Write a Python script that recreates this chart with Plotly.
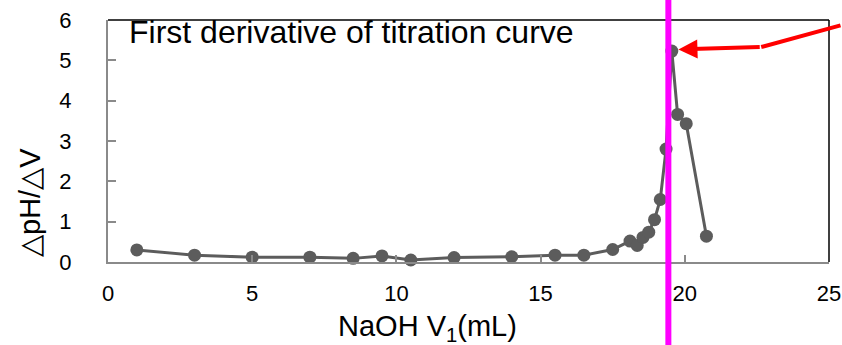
import plotly.graph_objects as go

# Data
volume_ml = [1, 3, 5, 7, 8.5, 9.5, 10.5, 12, 14, 15.5, 16.5, 17.5,
             18.1, 18.35, 18.55, 18.75, 18.95, 19.15, 19.35, 19.55, 19.75, 20.05, 20.75]
dph_dv = [0.30, 0.17, 0.12, 0.12, 0.09, 0.15, 0.05, 0.11, 0.13, 0.17, 0.17, 0.31,
          0.52, 0.41, 0.61, 0.74, 1.05, 1.55, 2.80, 5.23, 3.66, 3.43, 0.64]
x_ticks = [0, 5, 10, 15, 20, 25]
y_ticks = [0, 1, 2, 3, 4, 5, 6]
endpoint_x = 19.43
arrow_tip = (19.78, 5.27)
arrow_elbow = (22.65, 5.33)

FONT = "Liberation Sans, Arial, sans-serif"
AXIS_GRAY = "#8a8a8a"

fig = go.Figure()
fig.add_trace(go.Scatter(
    x=volume_ml, y=dph_dv, mode="lines+markers",
    line=dict(color="#5c5c5c", width=3),
    marker=dict(color="#5c5c5c", size=13),
    cliponaxis=False, showlegend=False,
))

fig.update_layout(
    width=842, height=345,
    margin=dict(l=108, r=13, t=20, b=83, autoexpand=False),
    paper_bgcolor="white", plot_bgcolor="white",
    font=dict(family=FONT, color="black"),
)
fig.update_xaxes(
    range=[0, 25], tickvals=x_ticks, ticks="inside", ticklen=7, tickwidth=2,
    tickcolor=AXIS_GRAY, showline=True, linecolor=AXIS_GRAY, linewidth=2,
    showgrid=False, zeroline=False, tickfont=dict(size=22, color="black"),
    ticklabelstandoff=11,
)
fig.update_yaxes(
    range=[0, 6], tickvals=y_ticks, ticks="inside", ticklen=8, tickwidth=2,
    tickcolor=AXIS_GRAY, showline=True, linecolor=AXIS_GRAY, linewidth=2,
    showgrid=False, zeroline=False, tickfont=dict(size=22, color="black"),
    ticklabelstandoff=30,
)

# black frame top & right
fig.add_shape(type="line", xref="x domain", yref="y domain", x0=0, x1=1, y0=1, y1=1,
              line=dict(color="black", width=1.5), layer="below")
fig.add_shape(type="line", xref="x domain", yref="y domain", x0=1, x1=1, y0=0, y1=1,
              line=dict(color="black", width=1.5), layer="below")

# magenta vertical line
fig.add_shape(type="line", xref="x", yref="paper", x0=endpoint_x, x1=endpoint_x,
              y0=-0.5, y1=1.2, line=dict(color="#FF00FF", width=6))

# red arrow
fig.add_annotation(x=arrow_tip[0], y=arrow_tip[1], ax=arrow_elbow[0], ay=arrow_elbow[1],
                   axref="x", ayref="y", xref="x", yref="y", text="", showarrow=True,
                   arrowhead=2, arrowsize=0.95, arrowwidth=4, arrowcolor="#FF0000")
fig.add_annotation(x=arrow_elbow[0], y=arrow_elbow[1], ax=90, ay=-22,
                   xref="x", yref="y", text="", showarrow=True,
                   arrowhead=0, arrowwidth=4, arrowcolor="#FF0000")

# chart title inside plot
fig.add_annotation(text="First derivative of titration curve", xref="paper", yref="paper",
                   x=0.026, y=1.0, yshift=8, xanchor="left", yanchor="top", showarrow=False,
                   font=dict(size=32, color="black", family=FONT))

# axis titles
fig.add_annotation(text="NaOH V<sub>1</sub>(mL)", xref="paper", yref="paper",
                   x=(427 - 108) / 721, y=-0.272, xanchor="center", yanchor="middle",
                   showarrow=False, font=dict(size=29, color="black", family=FONT))
fig.add_annotation(text="△pH/△V", xref="paper", yref="paper",
                   x=(30 - 108) / 721, y=(262 - 203) / 242, xanchor="center", yanchor="middle",
                   textangle=-90, showarrow=False, font=dict(size=29, color="black", family=FONT))

fig.write_html("out.html")
